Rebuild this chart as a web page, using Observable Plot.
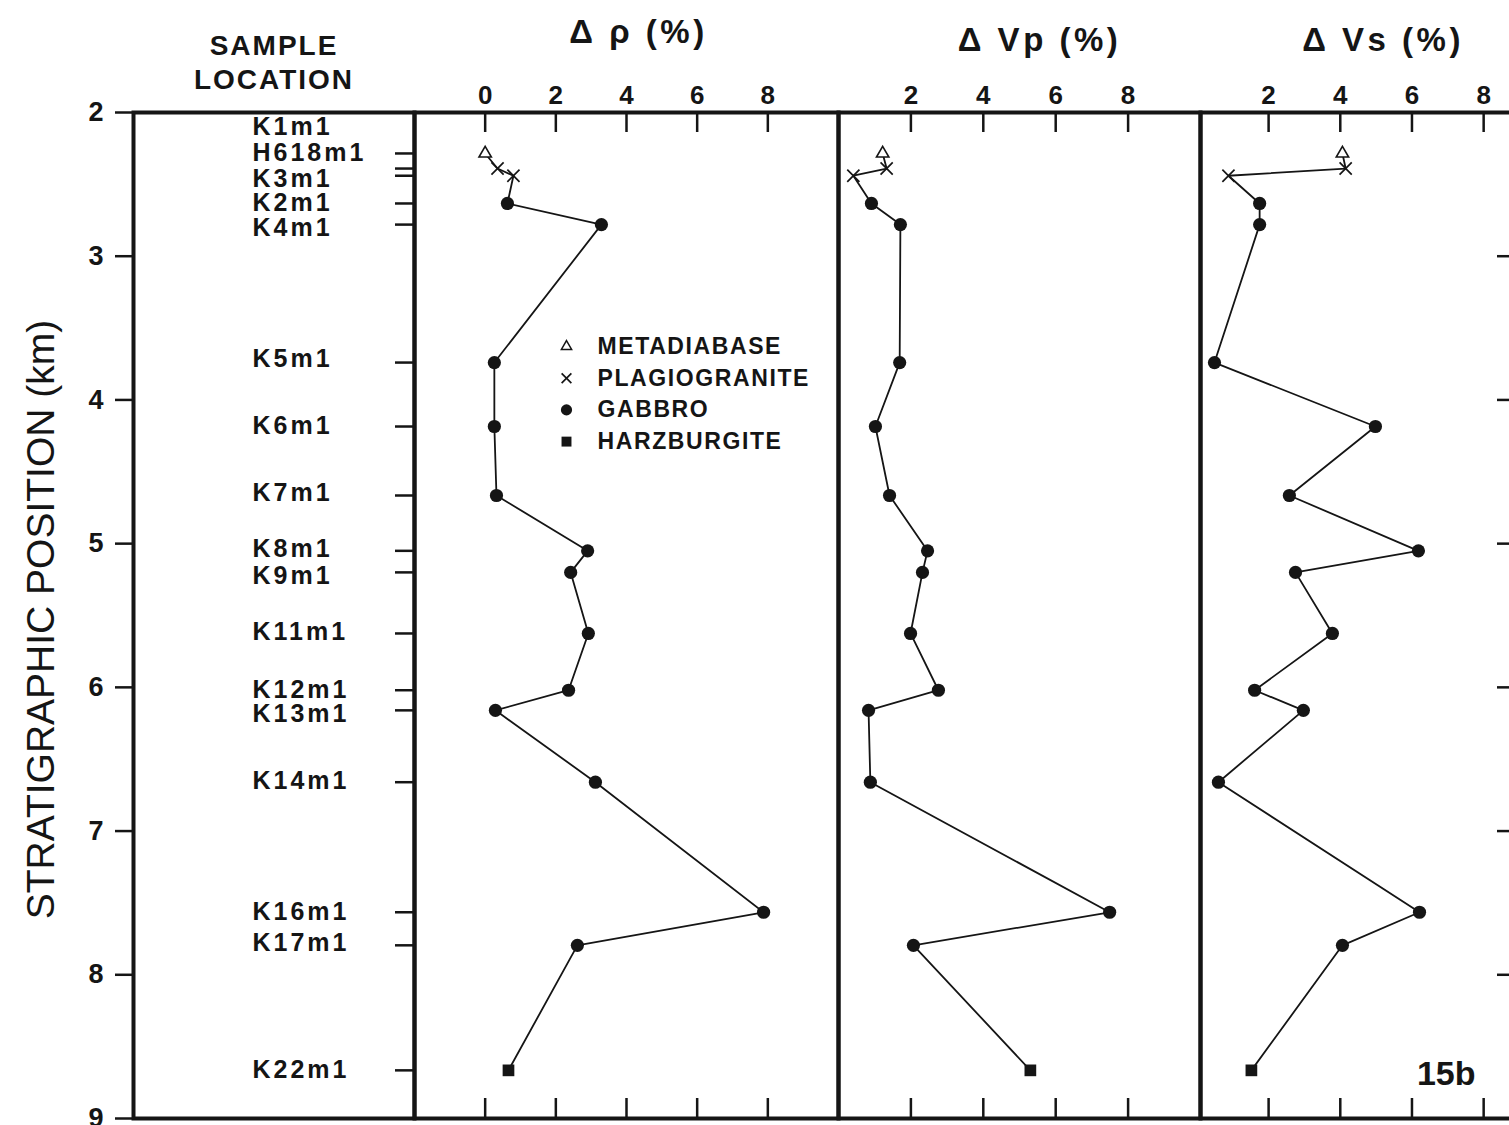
<!DOCTYPE html>
<html>
<head>
<meta charset="utf-8">
<script src="https://cdn.jsdelivr.net/npm/d3@7"></script>
<script src="https://cdn.jsdelivr.net/npm/@observablehq/plot@0.6"></script>
<style>
  html, body { margin: 0; padding: 0; background: #fff; overflow: hidden; }
  #fig { position: relative; width: 1509px; height: 1125px; overflow: hidden; background: #fff; }
  #fig svg { position: absolute; left: 0; top: 0; max-width: none !important; background: transparent !important; overflow: visible; }
  g[font-size="25"] { letter-spacing: 3px; }
  g[font-size="28"] { letter-spacing: 2px; }
  g[font-size="33"] { letter-spacing: 3.5px; }
  g[font-size="23"] { letter-spacing: 1.6px; }
</style>
</head>
<body>
<div id="fig"></div>
<script>
// ---------------- data ----------------
const sampleNames = ["H618m1","K1m1","K3m1","K2m1","K4m1","K5m1","K6m1","K7m1","K8m1","K9m1","K11m1","K12m1","K13m1","K14m1","K16m1","K17m1","K22m1"];
const rockTypes = ["METADIABASE","PLAGIOGRANITE","PLAGIOGRANITE","GABBRO","GABBRO","GABBRO","GABBRO","GABBRO","GABBRO","GABBRO","GABBRO","GABBRO","GABBRO","GABBRO","GABBRO","GABBRO","HARZBURGITE"];
const depthKm = [2.285, 2.39, 2.44, 2.633, 2.78, 3.74, 4.185, 4.665, 5.05, 5.20, 5.625, 6.02, 6.16, 6.66, 7.565, 7.795, 8.665];
const dRho = [0.0, 0.35, 0.80, 0.63, 3.29, 0.26, 0.26, 0.32, 2.90, 2.42, 2.92, 2.36, 0.29, 3.12, 7.88, 2.61, 0.66];
const dVp  = [1.22, 1.33, 0.41, 0.91, 1.71, 1.69, 1.02, 1.41, 2.46, 2.32, 1.99, 2.76, 0.83, 0.88, 7.49, 2.07, 5.30];
const dVs  = [4.06, 4.15, 0.88, 1.75, 1.75, 0.49, 4.98, 2.58, 6.18, 2.75, 3.78, 1.61, 2.97, 0.60, 6.21, 4.06, 1.52];

const labelNames = ["K1m1","H618m1","K3m1","K2m1","K4m1","K5m1","K6m1","K7m1","K8m1","K9m1","K11m1","K12m1","K13m1","K14m1","K16m1","K17m1","K22m1"];
const labelDepthKm = [2.104, 2.285, 2.46, 2.633, 2.807, 3.712, 4.178, 4.651, 5.034, 5.222, 5.618, 6.015, 6.182, 6.655, 7.56, 7.78, 8.66];

const yTicks = [2, 3, 4, 5, 6, 7, 8, 9];
const vsRightTicks = [3, 4, 5, 6, 7, 8];
const rhoTicks = [0, 2, 4, 6, 8];
const vpTicks = [2, 4, 6, 8];
const vsTicks = [2, 4, 6, 8];

const legendItems = ["METADIABASE", "PLAGIOGRANITE", "GABBRO", "HARZBURGITE"];
const yLabel = "STRATIGRAPHIC POSITION (km)";
const sampleTitle = "SAMPLE\nLOCATION";
const titles = ["\u0394 \u03c1 (%)", "\u0394 Vp (%)", "\u0394 Vs (%)"];
const figLabel = "15b";

// ---------------- layout / style ----------------
const W = 1509, H = 1125, TOP = 112, BOTTOM = 7;
const FRAME_H = H - TOP - BOTTOM;
const INK = "#151515";
const FONT = "'Liberation Sans', Arial, Helvetica, sans-serif";
const svgStyle = {fontFamily: FONT, fontSize: "24px", fontWeight: "bold", background: "transparent", maxWidth: "none", overflow: "visible", color: INK};

const rows = sampleNames.map((name, i) => ({name, type: rockTypes[i], depth: depthKm[i], rho: dRho[i], vp: dVp[i], vs: dVs[i]}));

const symbolStyle = {
  METADIABASE: {symbol: "triangle", r: 4.6, fill: "white", stroke: INK, strokeWidth: 1.6},
  PLAGIOGRANITE: {symbol: "times", r: 5.6, stroke: INK, strokeWidth: 1.7},
  GABBRO: {symbol: "circle", r: 6.6, fill: INK},
  HARZBURGITE: {symbol: "square", r: 6.6, fill: INK}
};
const legendSymbolStyle = {
  METADIABASE: {symbol: "triangle", r: 3.8, fill: "white", stroke: INK, strokeWidth: 1.5},
  PLAGIOGRANITE: {symbol: "times", r: 4.5, stroke: INK, strokeWidth: 1.7},
  GABBRO: {symbol: "circle", r: 5.6, fill: INK},
  HARZBURGITE: {symbol: "square", r: 5.6, fill: INK}
};

const fig = document.getElementById("fig");

// ---------------- sample-location panel + depth axis ----------------
const p1 = Plot.plot({
  width: W, height: H,
  marginTop: TOP, marginBottom: BOTTOM, marginLeft: 133, marginRight: W - 414,
  y: {domain: [2, 9], reverse: true, label: null},
  style: svgStyle,
  marks: [
    Plot.axisY({anchor: "left", ticks: yTicks, tickSize: 18, tickPadding: 12, strokeWidth: 2.5, stroke: INK, label: null, fontSize: 27, fontWeight: "bold", tickFormat: d => String(d)}),
    Plot.tickY(depthKm, {y: d => d, insetLeft: 281 - 19, stroke: INK, strokeWidth: 2.5}),
    Plot.text(labelNames, {text: d => d, y: (d, i) => labelDepthKm[i], frameAnchor: "left", dx: 119, textAnchor: "start", lineAnchor: "middle", fontSize: 25, fontWeight: "bold", fill: INK}),
    Plot.text([sampleTitle], {text: d => d, frameAnchor: "top", dy: -24, lineAnchor: "bottom", lineHeight: 1.18, fontSize: 28, fontWeight: "bold", fill: INK}),
    Plot.text([yLabel], {text: d => d, frameAnchor: "left", dx: -80, dy: 4, rotate: -90, textAnchor: "middle", lineAnchor: "bottom", fontSize: 39, fontWeight: "normal", fill: INK}),
    Plot.frame({stroke: INK, strokeWidth: 4})
  ]
});
fig.appendChild(p1);

// ---------------- data panels ----------------
function dataPanel(o) {
  const width = o.width ?? W;
  const marks = [
    Plot.tickX(o.ticks, {x: d => d, insetBottom: FRAME_H - 20, stroke: INK, strokeWidth: 2.5}),
    Plot.tickX(o.ticks, {x: d => d, insetTop: FRAME_H - 20, stroke: INK, strokeWidth: 2.5}),
    Plot.axisX({anchor: "top", ticks: o.ticks, tickSize: 0, tickPadding: 9, label: null, fontSize: 26, fontWeight: "bold", fill: INK, tickFormat: d => String(d)}),
    Plot.line(rows, {x: o.key, y: "depth", stroke: INK, strokeWidth: 1.8}),
    ...["GABBRO", "HARZBURGITE", "PLAGIOGRANITE", "METADIABASE"].map(t =>
      Plot.dot(rows.filter(d => d.type === t), {x: o.key, y: "depth", ...symbolStyle[t]})),
    Plot.text([o.title], {text: d => d, frameAnchor: "top", dx: o.titleDx, dy: o.titleDy, lineAnchor: "bottom", fontSize: 33, fontWeight: "bold", fill: INK}),
    ...(o.extra || []),
    Plot.frame({stroke: INK, strokeWidth: 4})
  ];
  return Plot.plot({
    width, height: H,
    marginTop: TOP, marginBottom: BOTTOM, marginLeft: o.left, marginRight: width - o.right,
    x: {domain: o.domain, label: null},
    y: {domain: [2, 9], reverse: true, axis: null, label: null},
    style: svgStyle,
    marks
  });
}

const legendMarks = legendItems.flatMap((name, i) => [
  Plot.dot([name], {frameAnchor: "top-left", dx: 152, dy: 234 + i * 31.7, ...legendSymbolStyle[name]}),
  Plot.text([name], {text: d => d, frameAnchor: "top-left", dx: 183, dy: 234 + i * 31.7, textAnchor: "start", lineAnchor: "middle", fontSize: 23, fontWeight: "bold", fill: INK})
]);

fig.appendChild(dataPanel({key: "rho", domain: [-2, 10], left: 414, right: 838, ticks: rhoTicks, title: titles[0], titleDx: 12, titleDy: -70, extra: legendMarks}));
fig.appendChild(dataPanel({key: "vp", domain: [0, 10], left: 838, right: 1200, ticks: vpTicks, title: titles[1], titleDx: 20, titleDy: -62}));
fig.appendChild(dataPanel({key: "vs", domain: [0.1, 9], left: 1200, right: 1519, width: 1560, ticks: vsTicks, title: titles[2], titleDx: 23, titleDy: -62,
  extra: [
    Plot.tickY(vsRightTicks, {y: d => d, insetLeft: 319 - 22, stroke: INK, strokeWidth: 2.5}),
    Plot.text([figLabel], {text: d => d, frameAnchor: "bottom-right", dx: -44, dy: -34, textAnchor: "end", lineAnchor: "bottom", fontSize: 34, fontWeight: "bold", fill: INK})
  ]}));
</script>
</body>
</html>
